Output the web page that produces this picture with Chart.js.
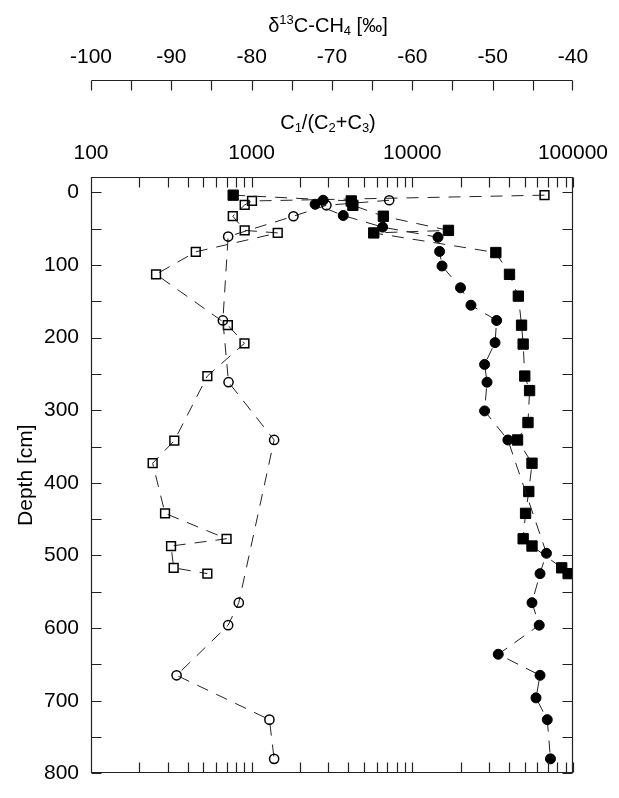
<!DOCTYPE html>
<html>
<head>
<meta charset="utf-8">
<script src="https://cdn.jsdelivr.net/npm/chart.js@4.4.1/dist/chart.umd.min.js"></script>
<style>
html,body{margin:0;padding:0;background:#fff;}
#wrap{width:619px;height:798px;position:relative;}
</style>
</head>
<body>
<div id="wrap"><canvas id="c" width="619" height="798"></canvas></div>
<script>
// ---- data ----
// filled circles: delta13C-CH4 (permil) vs depth (cm)
const circleDepthD13C = [11, 16.5, 32, 48, 62, 81.5, 101.5, 131.5, 155.5, 176.5, 207, 237, 261.5, 301, 341, 497, 525, 565, 596, 636, 665, 696, 726, 780];
const circleD13C = [-71.1, -72.1, -68.6, -63.7, -56.8, -56.6, -56.3, -54.0, -52.7, -49.5, -49.7, -51.0, -50.7, -51.0, -48.1, -43.3, -44.1, -45.1, -44.2, -49.3, -44.1, -44.6, -43.2, -42.8];
// filled squares: delta13C-CH4 (permil) vs depth (cm)
const squareDepthD13C = [4, 12, 18, 33, 52.5, 56, 83, 113, 143, 183, 209, 253, 273, 317, 341, 373, 412, 442, 477, 487, 517, 525];
const squareD13C = [-82.3, -67.6, -67.4, -63.6, -55.5, -64.8, -49.6, -47.9, -46.8, -46.4, -46.2, -46.0, -45.4, -45.6, -46.9, -45.1, -45.5, -45.9, -46.2, -45.1, -41.4, -40.6];
// open circles: C1/(C2+C3) vs depth (cm)
const circleDepthRatio = [11, 18, 33, 61, 176.5, 261.5, 341, 565, 596, 665, 726, 780];
const circleRatio = [7180, 2920, 1820, 714, 662, 718, 1380, 832, 714, 341, 1290, 1380];
// open squares: C1/(C2+C3) vs depth (cm)
const squareDepthRatio = [4, 12, 17.5, 33, 52.5, 56, 82, 113, 183, 208, 253, 342, 373, 442, 477, 487, 517, 525];
const squareRatio = [66500, 1005, 905, 763, 905, 1453, 449, 254, 711, 902, 530, 330, 242, 289, 698, 315, 327, 530];

// ---- axis tick labels ----
const d13cTicks = [-100, -90, -80, -70, -60, -50, -40];
const ratioTicks = [100, 1000, 10000, 100000];
const depthTicks = [0, 100, 200, 300, 400, 500, 600, 700, 800];
const d13cTitle = [{t: 'δ'}, {t: '13', sup: true}, {t: 'C-CH'}, {t: '4', sub: true}, {t: ' [‰]'}];
const ratioTitle = [{t: 'C'}, {t: '1', sub: true}, {t: '/(C'}, {t: '2', sub: true}, {t: '+C'}, {t: '3', sub: true}, {t: ')'}];
const depthTitle = 'Depth [cm]';

const FAM = "'Liberation Sans', Arial, Helvetica, sans-serif";
const pts = (xs, ys) => xs.map((x, i) => ({x: x, y: ys[i]}));

function drawRich(ctx, runs, cx, baseline, size) {
  const small = Math.round(size * 0.65);
  let w = 0;
  const widths = runs.map(r => {
    ctx.font = (r.sup || r.sub ? small : size) + 'px ' + FAM;
    const m = ctx.measureText(r.t).width;
    w += m;
    return m;
  });
  let x = cx - w / 2;
  ctx.textAlign = 'left';
  ctx.textBaseline = 'alphabetic';
  runs.forEach((r, i) => {
    ctx.font = (r.sup || r.sub ? small : size) + 'px ' + FAM;
    const dy = r.sup ? -size * 0.38 : (r.sub ? size * 0.18 : 0);
    ctx.fillText(r.t, x, baseline + dy);
    x += widths[i];
  });
}

const framePlugin = {
  id: 'frame',
  afterDraw(chart) {
    const {ctx, chartArea: a, scales} = chart;
    const ys = scales.y, xr = scales.xr, xd = scales.xd;
    const L = Math.round(a.left) + 0.5, R = Math.round(a.right) - 0.5;
    const T = Math.round(a.top) + 0.5, B = Math.round(a.bottom) - 0.5;
    const TL = 10;
    ctx.save();
    ctx.strokeStyle = '#222';
    ctx.lineWidth = 1.2;
    ctx.beginPath();
    ctx.rect(L, T, R - L, B - T);
    // depth ticks (left & right, inward), every 50 cm
    for (let d = 0; d <= 800; d += 50) {
      const py = Math.round(ys.getPixelForValue(d)) + 0.5;
      ctx.moveTo(L, py); ctx.lineTo(L + TL, py);
      ctx.moveTo(R, py); ctx.lineTo(R - TL, py);
    }
    // log ticks (top & bottom, inward)
    for (let k = 2; k <= 5; k++) {
      for (let m = 1; m <= 9; m++) {
        const v = m * Math.pow(10, k);
        if (v > 100000) break;
        const px = Math.round(xr.getPixelForValue(v)) + 0.5;
        ctx.moveTo(px, T); ctx.lineTo(px, T + TL);
        ctx.moveTo(px, B); ctx.lineTo(px, B - TL);
      }
    }
    // delta13C axis line with downward ticks every 5 permil
    const dy = Math.round(xd.bottom) + 0.5;
    const dl = Math.round(xd.getPixelForValue(-100)) + 0.5;
    const dr = Math.round(xd.getPixelForValue(-40)) - 0.5;
    ctx.moveTo(dl, dy); ctx.lineTo(dr, dy);
    for (let v = -100; v <= -40; v += 5) {
      let px = Math.round(xd.getPixelForValue(v)) + 0.5;
      if (v === -40) px = dr;
      ctx.moveTo(px, dy); ctx.lineTo(px, dy + TL);
    }
    ctx.stroke();
    // titles with sub/superscripts
    ctx.fillStyle = '#000';
    const cx = (a.left + a.right) / 2 - 4;
    drawRich(ctx, d13cTitle, cx, xd.top + 31.5, 20);
    drawRich(ctx, ratioTitle, cx, xr.top + 48.5, 20);
    ctx.restore();
  }
};

const lineStyle = {showLine: true, borderColor: '#222', borderWidth: 1, borderDash: [12, 9], pointBorderColor: '#000'};

new Chart(document.getElementById('c'), {
  type: 'scatter',
  data: {
    datasets: [
      Object.assign({label: 'd13C circles', data: pts(circleD13C, circleDepthD13C), xAxisID: 'xd', yAxisID: 'y',
        pointStyle: 'circle', pointRadius: 5, pointBackgroundColor: '#000', pointBorderWidth: 1}, lineStyle),
      Object.assign({label: 'd13C squares', data: pts(squareD13C, squareDepthD13C), xAxisID: 'xd', yAxisID: 'y',
        pointStyle: 'rect', pointRadius: 7.3, pointBackgroundColor: '#000', pointBorderWidth: 1}, lineStyle),
      Object.assign({label: 'ratio circles', data: pts(circleRatio, circleDepthRatio), xAxisID: 'xr', yAxisID: 'y',
        pointStyle: 'circle', pointRadius: 4.6, pointBackgroundColor: 'rgba(0,0,0,0)', pointBorderWidth: 1.5}, lineStyle),
      Object.assign({label: 'ratio squares', data: pts(squareRatio, squareDepthRatio), xAxisID: 'xr', yAxisID: 'y',
        pointStyle: 'rect', pointRadius: 6.2, pointBackgroundColor: 'rgba(0,0,0,0)', pointBorderWidth: 1.5}, lineStyle)
    ]
  },
  options: {
    responsive: false,
    animation: false,
    devicePixelRatio: 1,
    layout: {padding: {left: 0, right: 42, top: 0, bottom: 10}},
    plugins: {legend: {display: false}, tooltip: {enabled: false}},
    scales: {
      y: {
        type: 'linear', axis: 'y', position: 'left', reverse: true, min: -21, max: 800,
        afterBuildTicks: s => { s.ticks = depthTicks.map(v => ({value: v})); },
        afterFit: s => { s.width = 91; },
        grid: {display: false, drawTicks: false}, border: {display: false},
        ticks: {padding: 12, color: '#000', font: {family: FAM, size: 21}, callback: v => String(v)},
        title: {display: true, text: depthTitle, color: '#000', font: {family: FAM, size: 21}, padding: {top: 14, bottom: 0}}
      },
      xr: {
        type: 'logarithmic', axis: 'x', position: 'top', weight: 0, min: 100, max: 100000,
        afterBuildTicks: s => { s.ticks = ratioTicks.map(v => ({value: v})); },
        afterFit: s => { s.height = 97; },
        grid: {display: false, drawTicks: false}, border: {display: false},
        ticks: {padding: 11, color: '#000', font: {family: FAM, size: 21}, maxRotation: 0, autoSkip: false, callback: v => String(v)}
      },
      xd: {
        type: 'linear', axis: 'x', position: 'top', weight: 1, min: -100, max: -40,
        afterBuildTicks: s => { s.ticks = d13cTicks.map(v => ({value: v})); },
        afterFit: s => { s.height = 80; },
        grid: {display: false, drawTicks: false}, border: {display: false},
        ticks: {padding: 10, color: '#000', font: {family: FAM, size: 21}, maxRotation: 0, autoSkip: false, callback: v => String(v)}
      }
    }
  },
  plugins: [framePlugin]
});
</script>
</body>
</html>
